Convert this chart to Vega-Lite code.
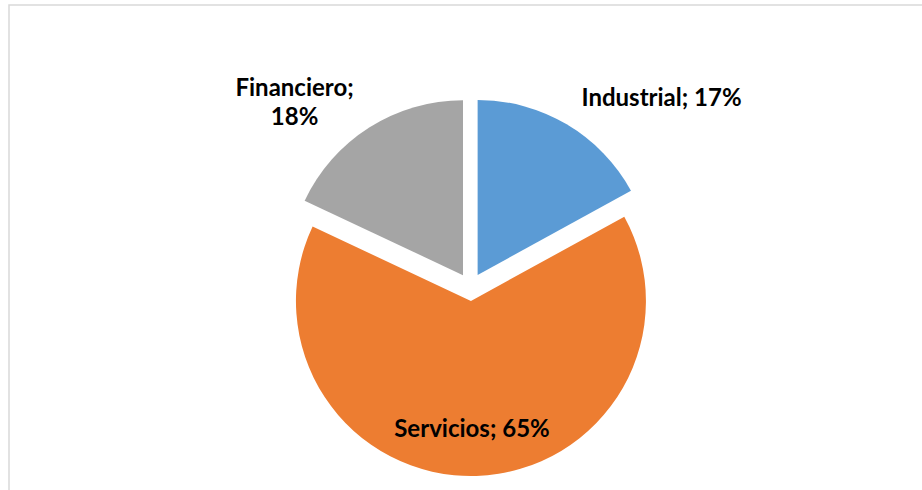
{
  "$schema": "https://vega.github.io/schema/vega-lite/v6.json",
  "width": 921,
  "height": 490,
  "padding": {"left": 9, "top": 5, "right": 0, "bottom": 0},
  "autosize": {"type": "none"},
  "background": "white",
  "view": {"stroke": "#D9D9D9", "strokeWidth": 1.5},
  "data": {
    "values": [
      {"sector": "Industrial", "pct": 17, "orden": 1, "etiqueta": "Industrial; 17%"},
      {"sector": "Servicios", "pct": 65, "orden": 2, "etiqueta": "Servicios; 65%"},
      {"sector": "Financiero", "pct": 18, "orden": 3, "etiqueta": ["Financiero;", "18%"]}
    ]
  },
  "encoding": {
    "theta": {"field": "pct", "type": "quantitative", "stack": true},
    "order": {"field": "orden", "type": "quantitative"}
  },
  "layer": [
    {
      "mark": {
        "type": "arc",
        "outerRadius": 175,
        "x": {"expr": "width/2+1"},
        "y": {"expr": "height/2+37"},
        "xOffset": {"expr": "14*sin(scale('theta',(datum.pct_start+datum.pct_end)/2))"},
        "yOffset": {"expr": "-14*cos(scale('theta',(datum.pct_start+datum.pct_end)/2))"}
      },
      "encoding": {
        "color": {
          "field": "sector",
          "type": "nominal",
          "scale": {"domain": ["Industrial", "Servicios", "Financiero"], "range": ["#5B9BD5", "#ED7D31", "#A5A5A5"]},
          "legend": null
        }
      }
    },
    {
      "mark": {
        "type": "text",
        "x": {"expr": "width/2+1"},
        "y": {"expr": "height/2+37"},
        "radius": {"expr": "datum.sector=='Industrial' ? 218 : datum.sector=='Financiero' ? 235 : 143"},
        "align": {"expr": "datum.sector=='Industrial' ? 'left' : 'center'"},
        "dx": {"expr": "datum.sector=='Financiero' ? -50 : datum.sector=='Servicios' ? -3 : 0"},
        "baseline": "middle",
        "font": "Lato",
        "fontSize": 24,
        "fontWeight": "bold",
        "lineHeight": 29,
        "color": "#000000"
      },
      "encoding": {
        "text": {"field": "etiqueta"}
      }
    }
  ]
}
